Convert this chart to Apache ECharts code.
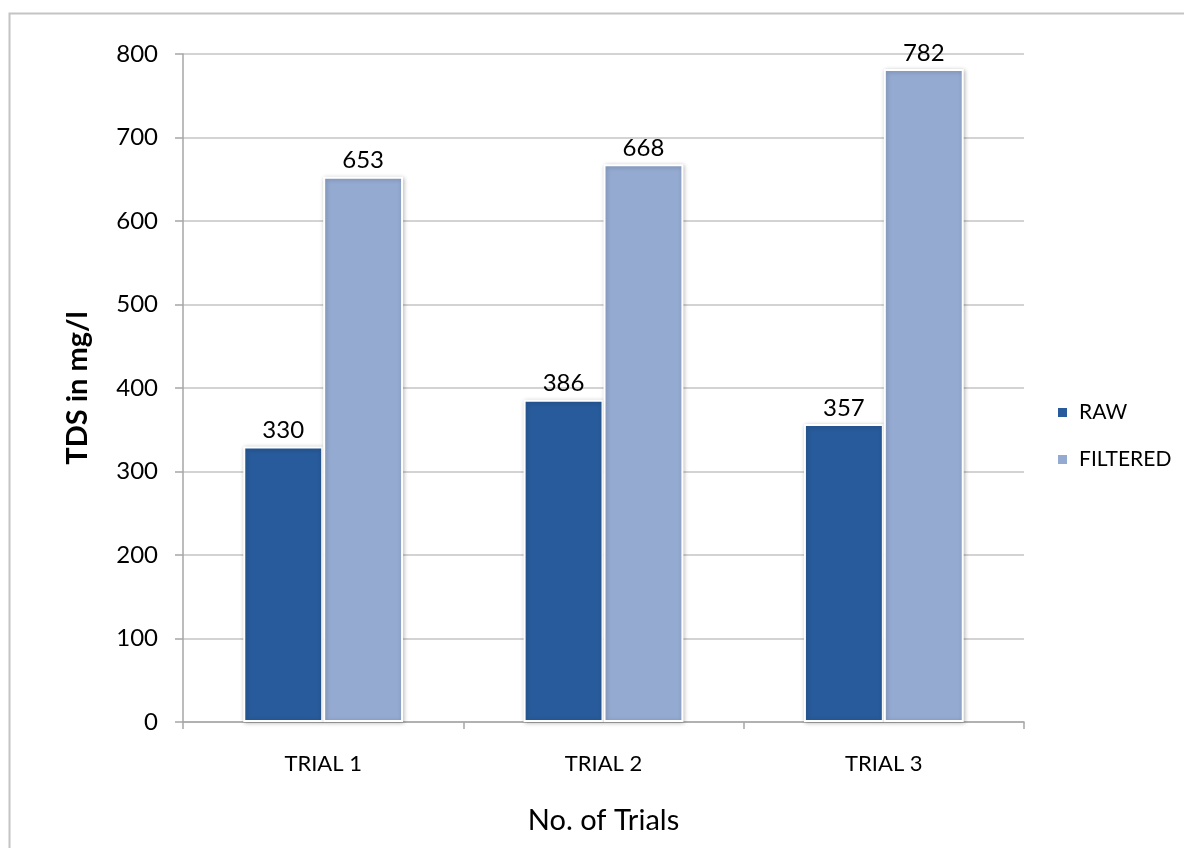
<!DOCTYPE html>
<html>
<head>
<meta charset="utf-8">
<script src="https://cdn.jsdelivr.net/npm/echarts@6/dist/echarts.min.js"></script>
<style>
  html, body { margin: 0; padding: 0; background: #fff; }
  #chart { width: 1184px; height: 848px; }
</style>
</head>
<body>
<div id="chart"></div>
<script>
const categories = ['TRIAL 1', 'TRIAL 2', 'TRIAL 3'];
const rawValues = [330, 386, 357];
const filteredValues = [653, 668, 782];
const seriesNames = ['RAW', 'FILTERED'];

const FONT = 'Lato, "Open Sans", sans-serif';
const chart = echarts.init(document.getElementById('chart'));

const barStyle = (color) => ({
  color: color,
  borderColor: '#ffffff',
  borderWidth: 2,
  shadowColor: 'rgba(0,0,0,0.25)',
  shadowBlur: 4,
  shadowOffsetX: 1,
  shadowOffsetY: 1
});

const labelStyle = {
  show: true,
  position: 'top',
  distance: 4,
  color: '#000',
  fontSize: 24,
  fontFamily: FONT
};

chart.setOption({
  backgroundColor: '#ffffff',
  animation: false,
  graphic: [{
    type: 'rect',
    shape: { x: 9.5, y: 13.5, width: 1200, height: 900 },
    style: { fill: 'none', stroke: '#c4c4c4', lineWidth: 2 },
    silent: true
  }],
  grid: { left: 183, right: 160, top: 54, bottom: 126 },
  legend: {
    orient: 'vertical',
    left: 1051,
    top: 397,
    itemWidth: 11,
    itemHeight: 11,
    itemGap: 26,
    icon: 'rect',
    textStyle: { fontSize: 21, fontFamily: FONT, color: '#000', padding: [0, 0, 0, 6] },
    data: seriesNames
  },
  xAxis: {
    type: 'category',
    data: categories,
    name: 'No. of Trials',
    nameLocation: 'middle',
    nameGap: 84,
    nameTextStyle: { fontSize: 29, fontFamily: FONT, color: '#000' },
    axisLine: { lineStyle: { color: '#a6a6a6', width: 1.5 } },
    axisTick: { show: true, length: 7, lineStyle: { color: '#a6a6a6', width: 1.5 } },
    axisLabel: { fontSize: 22, fontFamily: FONT, color: '#000', margin: 31 }
  },
  yAxis: {
    type: 'value',
    min: 0,
    max: 800,
    interval: 100,
    name: 'TDS in mg/l',
    nameLocation: 'middle',
    nameGap: 91,
    nameTextStyle: { fontSize: 29, fontWeight: 'bold', fontFamily: FONT, color: '#000' },
    axisLine: { show: true, lineStyle: { color: '#a6a6a6', width: 1.5 } },
    axisTick: { show: true, length: 8, lineStyle: { color: '#a6a6a6', width: 1.5 } },
    axisLabel: { fontSize: 24, fontFamily: FONT, color: '#000', margin: 25 },
    splitLine: { lineStyle: { color: '#c4c4c4', width: 1.5 } }
  },
  series: [
    {
      name: seriesNames[0],
      type: 'bar',
      data: rawValues,
      barGap: '0%',
      barCategoryGap: '43%',
      itemStyle: barStyle('#285b9b'),
      label: labelStyle
    },
    {
      name: seriesNames[1],
      type: 'bar',
      data: filteredValues,
      itemStyle: barStyle('#95aad1'),
      label: labelStyle
    }
  ]
});
</script>
</body>
</html>
